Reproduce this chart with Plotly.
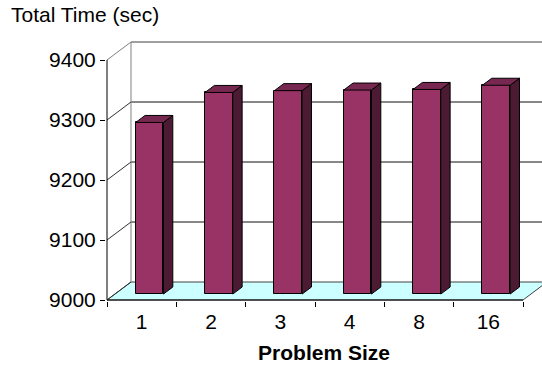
import plotly.graph_objects as go

# ---- data ----
categories = ["1", "2", "3", "4", "8", "16"]
values = [9286, 9336, 9339, 9340, 9341, 9348]
y_ticks = [9000, 9100, 9200, 9300, 9400]
y_title = "Total Time (sec)"
x_title = "Problem Size"

# ---- pseudo-3D geometry (in axis units) ----
BASE = y_ticks[0]
TOP = y_ticks[-1]
DX = 0.346      # depth offset along x (category units)
DY = 30.0       # depth offset along y (value units)
F = 0.33        # depth position of bar front
G = 0.39        # bar depth fraction
W = 0.40        # bar width
SHIFT = F * DX
N = len(categories)

FRONT = "#993366"
SIDE = "#4C1A33"
TOPC = "#772850"
FONT = "Liberation Sans, Arial, sans-serif"
FS = 21

fig = go.Figure()

# front faces of the bars
fig.add_trace(go.Bar(
    x=[i + 0.5 for i in range(N)],
    y=[v - BASE for v in values],
    base=BASE + F * DY,
    width=W,
    offset=SHIFT - W / 2,
    marker=dict(color=FRONT, line=dict(color="black", width=1)),
    hoverinfo="skip",
))

# side and top faces
for i, v in enumerate(values):
    x0 = i + 0.5 + SHIFT - W / 2
    x1 = x0 + W
    yb = BASE + F * DY
    yt = v + F * DY
    ddx, ddy = G * DX, G * DY
    fig.add_trace(go.Scatter(
        x=[x1, x1 + ddx, x1 + ddx, x1, x1],
        y=[yb, yb + ddy, yt + ddy, yt, yb],
        mode="lines", fill="toself", fillcolor=SIDE,
        line=dict(color="black", width=1), hoverinfo="skip",
    ))
    fig.add_trace(go.Scatter(
        x=[x0, x1, x1 + ddx, x0 + ddx, x0],
        y=[yt, yt, yt + ddy, yt + ddy, yt],
        mode="lines", fill="toself", fillcolor=TOPC,
        line=dict(color="black", width=1), hoverinfo="skip",
    ))

shapes = []
# floor
shapes.append(dict(
    type="path", xref="x", yref="y", layer="below",
    path=f"M 0,{BASE} L {N},{BASE} L {N + DX},{BASE + DY} L {DX},{BASE + DY} Z",
    fillcolor="#CCFFFF", line=dict(color="#404040", width=1),
))
# back wall gridlines
for v in y_ticks[1:-1]:
    shapes.append(dict(type="line", xref="x", yref="y", layer="below",
                       x0=DX, x1=N + DX, y0=v + DY, y1=v + DY,
                       line=dict(color="#101010", width=1)))
# back wall top edge and left edge
shapes.append(dict(type="line", xref="x", yref="y", layer="below",
                   x0=DX, x1=N + DX, y0=TOP + DY, y1=TOP + DY,
                   line=dict(color="#808080", width=1.5)))
shapes.append(dict(type="line", xref="x", yref="y", layer="below",
                   x0=DX, x1=DX, y0=BASE + DY, y1=TOP + DY,
                   line=dict(color="#808080", width=1)))
# side wall diagonals
for v in y_ticks:
    shapes.append(dict(type="line", xref="x", yref="y", layer="below",
                       x0=0, x1=DX, y0=v, y1=v + DY,
                       line=dict(color="#303030" if v != TOP else "#808080", width=1)))
# front axes lines
shapes.append(dict(type="line", xref="x", yref="y", layer="below",
                   x0=0, x1=N, y0=BASE, y1=BASE, line=dict(color="black", width=1)))
shapes.append(dict(type="line", xref="x", yref="y", layer="below",
                   x0=0, x1=0, y0=BASE, y1=TOP, line=dict(color="black", width=1)))

# axis ranges mapped to pixels: 69.333 px per category, 0.6 px per value unit
PX_X = 416 / 6
PX_Y = 0.6
L, R, T, B = 106, 0, 35, 67
plot_w = 542 - L - R
plot_h = 368 - T - B
x_lo = -1 / PX_X
x_hi = x_lo + plot_w / PX_X
y_lo = BASE - 1 / PX_Y
y_hi = y_lo + plot_h / PX_Y

fig.update_layout(
    width=542, height=368,
    margin=dict(l=L, r=R, t=T, b=B, pad=0, autoexpand=False),
    paper_bgcolor="white", plot_bgcolor="white",
    showlegend=False,
    shapes=shapes,
    font=dict(family=FONT, size=FS, color="black"),
    title=dict(text=y_title, x=11 / 542, xanchor="left", xref="container",
               y=1 - 15 / 368, yanchor="middle", yref="container",
               pad=dict(t=0, b=0, l=0, r=0),
               font=dict(family=FONT, size=FS, color="black")),
    xaxis=dict(
        range=[x_lo, x_hi], showgrid=False, zeroline=False, showline=False,
        automargin=False,
        tickmode="array", tickvals=[i + 0.5 for i in range(N)], ticktext=categories,
        ticks="outside", ticklen=2, tickcolor="rgba(0,0,0,0)",
        tickfont=dict(family=FONT, size=FS),
        minor=dict(tickmode="array", tickvals=list(range(N + 1)), ticks="outside",
                   ticklen=5, tickcolor="black", showgrid=False),
        title=dict(text=f"<b>{x_title}</b>", standoff=13,
                   font=dict(family=FONT, size=FS)),
        fixedrange=True,
    ),
    yaxis=dict(
        range=[y_lo, y_hi], showgrid=False, zeroline=False, showline=False,
        automargin=False,
        tickmode="array", tickvals=y_ticks, ticks="outside", ticklen=5,
        tickcolor="black", tickfont=dict(family=FONT, size=FS),
        fixedrange=True,
    ),
    bargap=0,
)

fig.write_html(
    "out.html",
    config={"displayModeBar": False},
    post_script="document.body.style.margin='0';document.body.style.padding='0';",
)
